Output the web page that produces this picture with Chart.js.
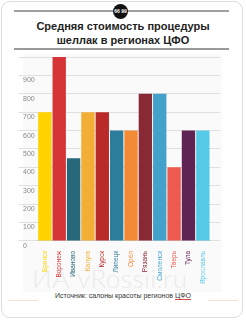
<!DOCTYPE html>
<html>
<head>
<meta charset="utf-8">
<script src="https://cdn.jsdelivr.net/npm/chart.js@4/dist/chart.umd.min.js"></script>
<style>
  html, body { margin: 0; padding: 0; background: #fff; }
  body { width: 246px; height: 321px; position: relative; overflow: hidden; font-family: "Liberation Sans", Arial, sans-serif; }
  .card { position: absolute; left: 1px; top: 1px; width: 242px; height: 317px; border: 1px solid #dcdcdc; border-radius: 9px; box-sizing: border-box; }
  .topline { position: absolute; left: 14px; top: 10px; width: 215px; height: 2px; background: #a0a0a0; }
  .quote { position: absolute; left: 113px; top: 4px; width: 15px; height: 15px; border-radius: 50%; background: #111; color: #fff; font: bold 5px "Liberation Sans", Arial, sans-serif; line-height: 15px; text-align: center; }
  .title { position: absolute; left: 0; top: 19px; width: 246px; text-align: center; font: bold 11px "Liberation Sans", Arial, sans-serif; line-height: 14px; color: #222; }
  .sep { position: absolute; left: 14px; top: 48px; width: 215px; height: 2px; background: #9a9a9a; }
  .plotbg { position: absolute; left: 23px; top: 54px; width: 199px; height: 238px; background: #fafafa; }
  .wm { position: absolute; left: 32px; top: 262px; font: 300 26px Lato, "DejaVu Sans", sans-serif; color: #ebebeb; letter-spacing: 0.5px; }
  .src { position: absolute; left: 0; top: 292px; width: 246px; text-align: center; font: 7px "Liberation Sans Narrow", "Liberation Sans", Arial, sans-serif; color: #333; }
  .src u { text-decoration-color: #d44; }
  .dec { position: absolute; top: 300px; width: 30px; height: 1px; background: #f5e2d0; }
  #chartBox { position: absolute; left: 0; top: 50px; width: 246px; height: 240px; }
</style>
</head>
<body>
<div class="card"></div>
<div class="topline"></div>
<div class="quote">66 99</div>
<div class="title">Средняя стоимость процедуры<br>шеллак в регионах ЦФО</div>
<div class="sep"></div>
<div class="plotbg"></div>
<div class="wm">ИА vRossii.ru</div>
<div class="dec" style="left:8px"></div>
<div class="dec" style="left:208px"></div>
<div class="src">Источник: салоны красоты регионов <u>ЦФО</u></div>
<div id="chartBox"><canvas id="chart"></canvas></div>
<script>
const regions = ['Брянск', 'Воронеж', 'Иваново', 'Калуга', 'Курск', 'Липецк', 'Орёл', 'Рязань', 'Смоленск', 'Тверь', 'Тула', 'Ярославль'];
const prices = [700, 1000, 450, 700, 700, 600, 600, 800, 800, 400, 600, 600];
const barColors = ['#ffd200', '#d63538', '#27687a', '#f2ae35', '#b92a28', '#2c7d9b', '#f28a36', '#892936', '#42a2cc', '#ed5a4f', '#5f2454', '#55c9e8'];
const yTicks = [0, 100, 200, 300, 400, 500, 600, 700, 800, 900, 1000];

const gridColor = '#e0e0e0';
const tickFont = { family: '"Liberation Sans Narrow", "Liberation Sans", Arial, sans-serif', size: 6.5 };

new Chart(document.getElementById('chart'), {
    type: 'bar',
    data: {
        labels: regions,
        datasets: [{
            data: prices,
            backgroundColor: barColors,
            borderWidth: 0,
            barPercentage: 0.93,
            categoryPercentage: 1
        }]
    },
    options: {
        responsive: true,
        maintainAspectRatio: false,
        animation: false,
        layout: { padding: { top: 7, left: 23, right: 26, bottom: 4 } },
        plugins: { legend: { display: false }, tooltip: { enabled: false } },
        scales: {
            x: {
                grid: { display: false },
                border: { color: '#cfcfcf' },
                ticks: {
                    minRotation: 90,
                    maxRotation: 90,
                    padding: 2,
                    font: tickFont,
                    color: (ctx) => barColors[ctx.index]
                }
            },
            y: {
                min: 0,
                max: 1000,
                afterBuildTicks: (axis) => { axis.ticks = yTicks.map(v => ({ value: v })); },
                grid: { color: gridColor, tickLength: 19 },
                border: { display: false },
                ticks: {
                    crossAlign: 'far',
                    padding: -8,
                    labelOffset: (ctx) => ctx.index === 0 ? -4 : 5,
                    font: { family: tickFont.family, size: 7 },
                    color: '#8a8a8a',
                    callback: (v) => v === 1000 ? '' : v
                }
            },
            y2: {
                position: 'right',
                min: 0,
                max: 1000,
                afterBuildTicks: (axis) => { axis.ticks = yTicks.map(v => ({ value: v })); },
                grid: { color: gridColor, tickLength: 10, drawOnChartArea: false },
                border: { display: false },
                ticks: { display: false }
            }
        }
    }
});
</script>
</body>
</html>
